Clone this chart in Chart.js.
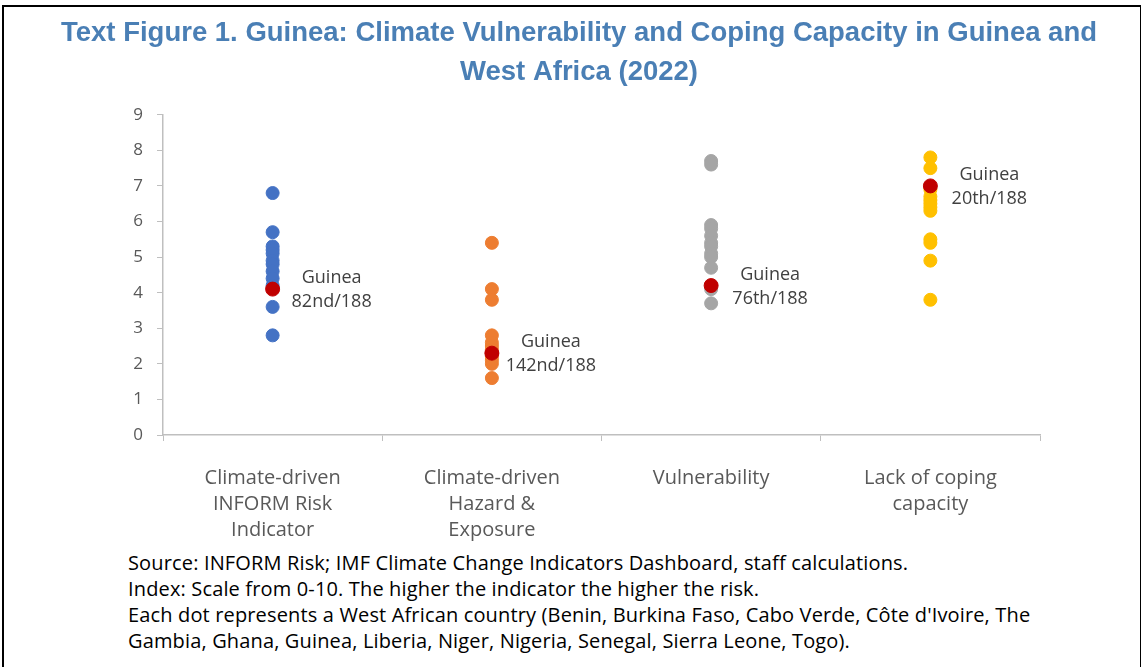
<!DOCTYPE html>
<html lang="en">
<head>
    <meta charset="UTF-8">
    <title>Guinea: Climate Vulnerability and Coping Capacity</title>
    <script src="https://cdn.jsdelivr.net/npm/chart.js"></script>
    <style>
        body { margin: 0; background: #fff; font-family: "Open Sans", sans-serif; }
        #frame { position: absolute; left: 2px; top: 5px; width: 1136px; height: 680px;
                 border: 2px solid #000; border-bottom: none; }
        #wrap { position: absolute; left: 0; top: 0; width: 1141px; height: 545px; }
        #notes { position: absolute; left: 128px; top: 550px; font-size: 20px; letter-spacing: 0.15px;
                 line-height: 26px; color: #000; white-space: nowrap; }
    </style>
</head>
<body>
    <div id="frame"></div>
    <div id="wrap"><canvas id="chart"></canvas></div>
    <div id="notes">
        Source: INFORM Risk; IMF Climate Change Indicators Dashboard, staff calculations.<br>
        Index: Scale from 0-10. The higher the indicator the higher the risk.<br>
        Each dot represents a West African country (Benin, Burkina Faso, Cabo Verde, Côte d'Ivoire, The<br>
        Gambia, Ghana, Guinea, Liberia, Niger, Nigeria, Senegal, Sierra Leone, Togo).
    </div>

    <script>
        const categories = [
            ['Climate-driven', 'INFORM Risk', 'Indicator'],
            ['Climate-driven', 'Hazard &', 'Exposure'],
            'Vulnerability',
            ['Lack of coping', 'capacity']
        ];
        // other West African countries, per indicator
        const riskValues = [6.8, 5.7, 5.3, 5.2, 5.1, 4.9, 4.8, 4.6, 4.4, 4.2, 3.6, 2.8];
        const hazardValues = [5.4, 4.1, 3.8, 2.8, 2.6, 2.5, 2.4, 2.3, 2.2, 2.1, 2.0, 1.6];
        const vulnValues = [7.7, 7.6, 5.9, 5.8, 5.6, 5.4, 5.3, 5.1, 5.0, 4.7, 4.1, 3.7];
        const copingValues = [7.8, 7.5, 6.9, 6.7, 6.6, 6.5, 6.3, 5.5, 5.4, 4.9, 3.8, 6.4];
        // Guinea
        const guineaValues = [4.1, 2.3, 4.2, 7.0];
        const guineaRanks = ['82nd/188', '142nd/188', '76th/188', '20th/188'];

        const columnColors = ['#4472c4', '#ed7d31', '#a5a5a5', '#ffc000'];
        const columns = [riskValues, hazardValues, vulnValues, copingValues];

        const labelKeys = categories.map((c, i) => 'c' + i);

        const datasets = columns.map((vals, i) => ({
            label: 'col' + i,
            data: vals.map(v => ({ x: labelKeys[i], y: v })),
            backgroundColor: columnColors[i],
            borderColor: columnColors[i],
            pointRadius: 6.5,
            showLine: false,
            order: 1
        }));
        datasets.push({
            label: 'Guinea',
            data: guineaValues.map((v, i) => ({ x: labelKeys[i], y: v })),
            backgroundColor: '#c00000',
            borderColor: '#c00000',
            pointRadius: 7,
            showLine: false,
            order: 0   // on top
        });

        const guineaLabels = {
            id: 'guineaLabels',
            afterDatasetsDraw(chart) {
                const meta = chart.getDatasetMeta(chart.data.datasets.length - 1);
                const ctx = chart.ctx;
                ctx.save();
                ctx.font = '18px "Open Sans", sans-serif';
                ctx.fillStyle = '#404040';
                ctx.textAlign = 'center';
                ctx.textBaseline = 'middle';
                meta.data.forEach((pt, i) => {
                    ctx.fillText('Guinea', pt.x + 59, pt.y - 11);
                    ctx.fillText(guineaRanks[i], pt.x + 59, pt.y + 13);
                });
                ctx.restore();
            }
        };

        new Chart(document.getElementById('chart'), {
            type: 'line',
            data: { labels: labelKeys, datasets: datasets },
            plugins: [guineaLabels],
            options: {
                responsive: true,
                maintainAspectRatio: false,
                animation: false,
                layout: { padding: { left: 17, right: 0, top: 13, bottom: 0 } },
                plugins: {
                    legend: { display: false },
                    tooltip: { enabled: false },
                    title: {
                        display: true,
                        text: ['Text Figure 1. Guinea: Climate Vulnerability and Coping Capacity in Guinea and',
                               'West Africa (2022)'],
                        color: '#4a7fb5',
                        font: { family: '"Liberation Sans", Arial, sans-serif', size: 27.5, weight: 'bold', lineHeight: 1.45 },
                        padding: { top: 0, bottom: 22 }
                    }
                },
                scales: {
                    x: {
                        offset: true,
                        grid: { display: true, offset: true, drawOnChartArea: false, color: '#bfbfbf', tickLength: 6 },
                        border: { color: '#bfbfbf', width: 1.5 },
                        ticks: {
                            color: '#595959',
                            font: { family: '"Open Sans", sans-serif', size: 20, lineHeight: 1.3 },
                            padding: 24,
                            maxRotation: 0,
                            callback: (v, i) => categories[i]
                        },
                        afterFit: s => { s.height = 110; }
                    },
                    y: {
                        min: 0,
                        max: 9,
                        ticks: { stepSize: 1, color: '#595959', font: { family: '"Open Sans", sans-serif', size: 17 }, padding: 14 },
                        grid: { display: true, drawOnChartArea: false, color: '#bfbfbf', tickLength: 6 },
                        border: { color: '#bfbfbf', width: 1.5 },
                        afterFit: s => { s.width = 146; }
                    },
                    yR: {
                        position: 'right',
                        display: true,
                        ticks: { display: false },
                        grid: { display: false },
                        border: { display: false },
                        afterFit: s => { s.width = 101; }
                    }
                }
            }
        });
    </script>
</body>
</html>
